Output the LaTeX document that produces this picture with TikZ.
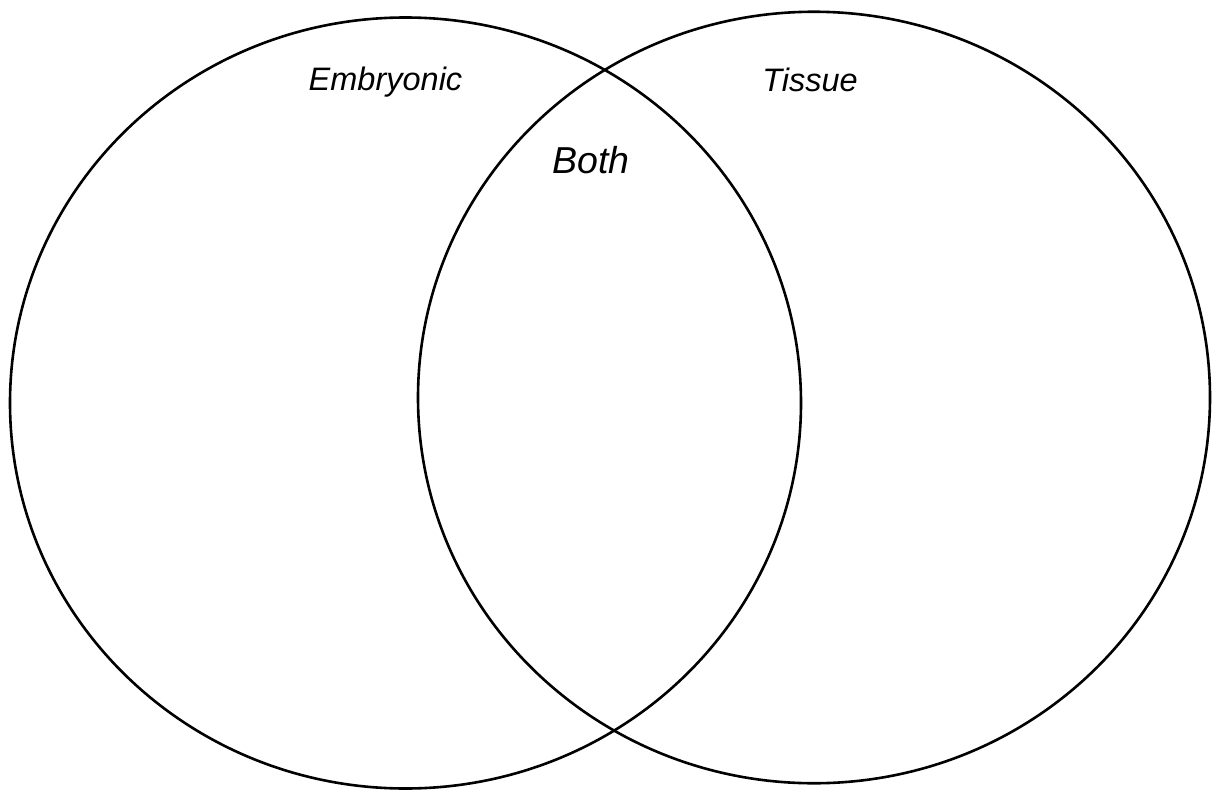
\documentclass[tikz,border=0pt]{standalone}
\usepackage{fontspec}
\setmainfont{Liberation Sans}
\usetikzlibrary{shapes.geometric}
\begin{document}
\begin{tikzpicture}[x=1pt,y=-1pt,
  setring/.style={draw=black, line width=2.6pt, ellipse, inner sep=0pt, fill=none},
  setlabel/.style={anchor=base, inner sep=0pt, font=\itshape\fontsize{32.5}{36}\selectfont},
  midlabel/.style={anchor=base, inner sep=0pt, font=\itshape\fontsize{37.5}{42}\selectfont}]
\useasboundingbox[fill=white] (0,0) rectangle (1213,790);
\node[setring, minimum width=791pt, minimum height=771pt] (left) at (405.5,403) {};
\node[setring, minimum width=792pt, minimum height=771.5pt] (right) at (814,397.5) {};
\node[setlabel] (emb) at (385.5,90.7) {Embryonic};
\node[setlabel] (tis) at (810,91) {Tissue};
\node[midlabel] (both) at (591,173) {Both};
\end{tikzpicture}
\end{document}
